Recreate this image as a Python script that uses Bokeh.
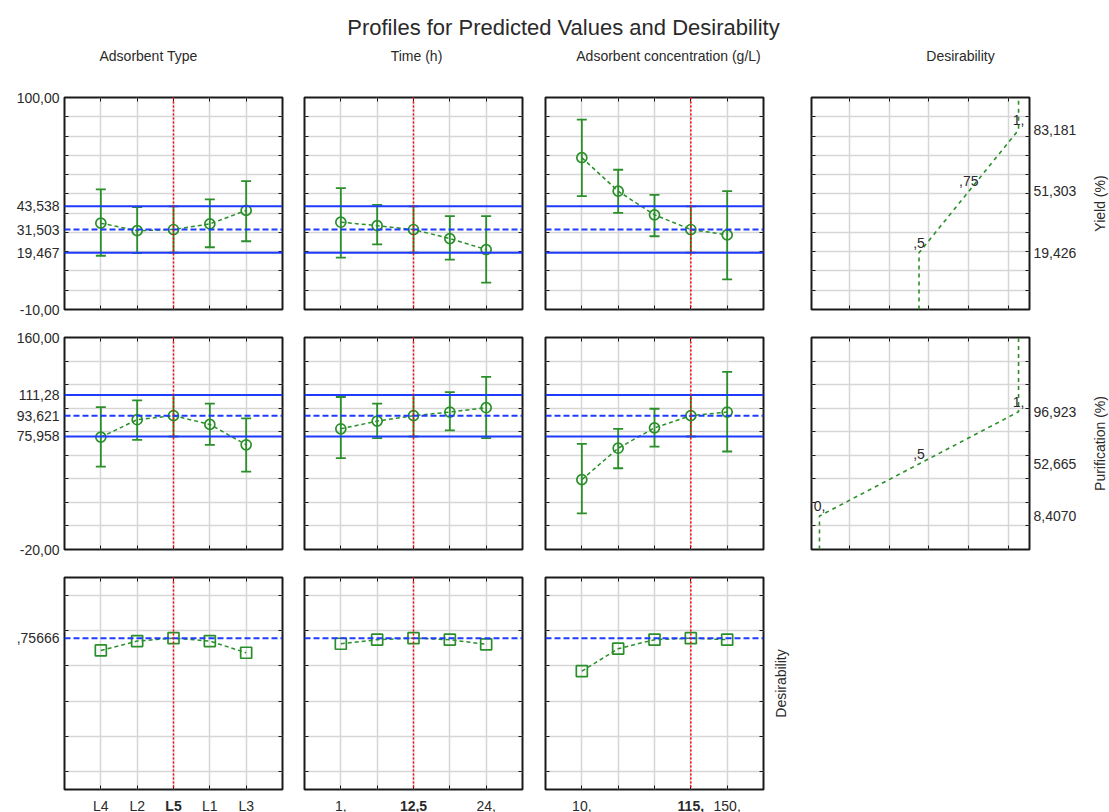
import math
from bokeh.plotting import figure
from bokeh.models import (Range1d, LinearAxis, FixedTicker, Grid, Span, Whisker,
                          ColumnDataSource, Label, TeeHead, Spacer)
from bokeh.layouts import column, row
from bokeh.embed import file_html
from bokeh.resources import INLINE
from bokeh.core.properties import value, field

# ---------------- data ----------------
adsorbent_types = ["L4", "L2", "L5", "L1", "L3"]
times_h = [1, 6.75, 12.5, 18.25, 24]
concs_gL = [10, 45, 80, 115, 150]
current_type = "L5"
current_time = 12.5
current_conc = 115

yield_type = [34.8, 30.9, 31.503, 34.4, 41.4]
yield_type_lo = [17.9, 19.3, 19.467, 22.3, 25.4]
yield_type_hi = [52.3, 43.1, 43.538, 47.1, 56.6]
yield_time = [35.3, 33.5, 31.503, 26.8, 21.1]
yield_time_lo = [16.9, 23.8, 19.467, 15.9, 3.9]
yield_time_hi = [53.0, 44.3, 43.538, 38.4, 38.4]
yield_conc = [68.8, 51.4, 39.1, 31.503, 28.7]
yield_conc_lo = [48.8, 40.1, 28.0, 19.467, 5.6]
yield_conc_hi = [88.5, 62.5, 49.5, 43.538, 51.4]

purif_type = [75.4, 90.2, 93.621, 86.2, 68.9]
purif_type_lo = [50.4, 73.1, 75.958, 68.9, 46.1]
purif_type_hi = [100.9, 106.6, 111.28, 103.8, 91.3]
purif_time = [82.5, 89.0, 93.621, 96.7, 100.4]
purif_time_lo = [57.5, 74.5, 75.958, 81.1, 74.5]
purif_time_hi = [109.5, 103.8, 111.28, 113.7, 126.5]
purif_conc = [39.3, 66.0, 83.3, 93.621, 96.7]
purif_conc_lo = [10.7, 49.0, 67.4, 75.958, 63.2]
purif_conc_hi = [69.7, 82.5, 99.5, 111.28, 130.8]

desir_type = [0.687, 0.740, 0.75666, 0.740, 0.674]
desir_time = [0.725, 0.748, 0.75666, 0.748, 0.722]
desir_conc = [0.570, 0.697, 0.748, 0.75666, 0.748]

yield_current = [19.467, 31.503, 43.538]
purif_current = [75.958, 93.621, 111.28]
desir_current = 0.75666

yield_d_levels = [0.5, 0.75, 1.0]
yield_d_values = [19.426, 51.303, 83.181]
yield_d_labels = [",5", ",75", "1,"]
purif_d_levels = [0.0, 0.5, 1.0]
purif_d_values = [8.407, 52.665, 96.923]
purif_d_labels = ["0,", ",5", "1,"]

yield_ticks = [100, 43.538, 31.503, 19.467, -10]
yield_tick_labels = ["100,00", "43,538", "31,503", "19,467", "-10,00"]
purif_ticks = [160, 111.28, 93.621, 75.958, -20]
purif_tick_labels = ["160,00", "111,28", "93,621", "75,958", "-20,00"]
desir_ticks = [0.75666]
desir_tick_labels = [",75666"]
yield_d_tick_labels = ["19,426", "51,303", "83,181"]
purif_d_tick_labels = ["8,4070", "52,665", "96,923"]
time_tick_vals = [1, 12.5, 24]
time_tick_labels = ["1,", "12,5", "24,"]
conc_tick_vals = [10, 115, 150]
conc_tick_labels = ["10,", "115,", "150,"]

title_text = "Profiles for Predicted Values and Desirability"
col_headers = ["Adsorbent Type", "Time (h)", "Adsorbent concentration (g/L)", "Desirability"]
row_labels = ["Yield (%)", "Purification (%)", "Desirability"]

# ---------------- style ----------------
FW, FH = 218, 212
GREEN = "#2a8f2a"
BLUE = "#1f3bff"
RED = "#ff0000"
GRIDC = "#d6d6d6"
FRAME = "#1a1a1a"
TXT = "#2a2a2a"
FONT = "Liberation Sans"
TS = "14px"

yield_range = (-10, 100)
purif_range = (-20, 160)
desir_range = (-0.1, 1.1)
yield_grid = list(range(0, 100, 10))
purif_grid = list(range(0, 160, 20))
desir_grid = [0.0, 0.2, 0.4, 0.6, 0.8, 1.0]
d_range = (-0.04, 1.055)
d_grid = [0.15, 0.35, 0.55, 0.75, 0.95]

# (left, right) borders per column and (top, bottom) per row
col_lr = [(64, 10), (12, 10), (13, 30), (18, 60)]
row_tb = [(9, 14), (14, 14), (14, 3)]
STRIP_W = 20
LABEL_H = 20


def make_fig(xr, yr, bl, br, bt, bb):
    p = figure(frame_width=FW, frame_height=FH, x_range=xr, y_range=yr,
               x_axis_type=None, y_axis_type=None, toolbar_location=None,
               output_backend="svg", min_border_left=bl, min_border_right=br,
               min_border_top=bt, min_border_bottom=bb)
    p.outline_line_color = FRAME
    p.outline_line_width = 2
    p.background_fill_color = "white"
    p.border_fill_color = "white"
    return p


def blank_fig(fw, fh, xr, yr, bl=0, br=0, bt=0, bb=0):
    s = figure(frame_width=fw, frame_height=fh, x_range=xr, y_range=yr,
               x_axis_type=None, y_axis_type=None, toolbar_location=None,
               output_backend="svg", min_border_left=bl, min_border_right=br,
               min_border_top=bt, min_border_bottom=bb)
    s.outline_line_color = None
    s.background_fill_color = "white"
    s.border_fill_color = "white"
    return s


def key(v):
    return int(v) if float(v).is_integer() else v


def add_axis(p, side, minor, major=(), labels=(), standoff=5):
    ax = LinearAxis(ticker=FixedTicker(ticks=[key(v) for v in major], minor_ticks=list(minor)))
    ax.axis_line_color = None
    ax.major_tick_in = 0
    ax.major_tick_out = 0
    ax.minor_tick_in = 4
    ax.minor_tick_out = 0
    ax.minor_tick_line_color = FRAME
    ax.minor_tick_line_width = 1
    ax.major_label_overrides = {key(v): t for v, t in zip(major, labels)}
    ax.major_label_standoff = standoff
    ax.major_label_text_font = FONT
    ax.major_label_text_font_size = TS
    ax.major_label_text_color = TXT
    p.add_layout(ax, side)
    return ax


def add_grids(p, xgrid, ygrid):
    p.add_layout(Grid(dimension=0, ticker=FixedTicker(ticks=list(xgrid)),
                      grid_line_color=GRIDC, grid_line_width=1.5))
    p.add_layout(Grid(dimension=1, ticker=FixedTicker(ticks=list(ygrid)),
                      grid_line_color=GRIDC, grid_line_width=1.5))


def rot_strip(text, bt, bb):
    s = blank_fig(STRIP_W, FH, Range1d(0, 1), Range1d(0, 1), bt=bt, bb=bb)
    s.text([0.5], [0.5], text=[text], angle=math.pi / 2, text_align="center",
           text_baseline="middle", text_font=value(FONT), text_font_size=value(TS),
           text_color=TXT)
    return s


def padded(vals):
    step = vals[1] - vals[0]
    return Range1d(vals[0] - step, vals[-1] + step)


type_pos = [adsorbent_types.index(t) + 1 for t in adsorbent_types]
cur_type_pos = adsorbent_types.index(current_type) + 1
factors = [
    (type_pos, cur_type_pos),
    (times_h, current_time),
    (concs_gL, current_conc),
]
bottom_labels = [
    (type_pos, adsorbent_types),
    (time_tick_vals, time_tick_labels),
    (conc_tick_vals, conc_tick_labels),
]
x_ranges = [padded(f[0]) for f in factors]

responses = [
    dict(rng=yield_range, grid=yield_grid, ticks=yield_ticks, tlabels=yield_tick_labels,
         cur=yield_current, marker="circle",
         vals=[yield_type, yield_time, yield_conc],
         lo=[yield_type_lo, yield_time_lo, yield_conc_lo],
         hi=[yield_type_hi, yield_time_hi, yield_conc_hi]),
    dict(rng=purif_range, grid=purif_grid, ticks=purif_ticks, tlabels=purif_tick_labels,
         cur=purif_current, marker="circle",
         vals=[purif_type, purif_time, purif_conc],
         lo=[purif_type_lo, purif_time_lo, purif_conc_lo],
         hi=[purif_type_hi, purif_time_hi, purif_conc_hi]),
    dict(rng=desir_range, grid=desir_grid, ticks=desir_ticks, tlabels=desir_tick_labels,
         cur=[desir_current], marker="square",
         vals=[desir_type, desir_time, desir_conc], lo=None, hi=None),
]

rows = []
for r, resp in enumerate(responses):
    figs = []
    bt, bb = row_tb[r]
    for c in range(3):
        xs, cur_x = factors[c]
        bl, br = col_lr[c]
        if r == 2 and c == 2:
            br = 7
        p = make_fig(x_ranges[c], Range1d(*resp["rng"]), bl, br, bt, bb)
        add_grids(p, xs, resp["grid"])
        if r < 2:
            lo_c, mid_c, hi_c = resp["cur"]
            p.add_layout(Span(location=lo_c, dimension="width", line_color=BLUE, line_width=2))
            p.add_layout(Span(location=hi_c, dimension="width", line_color=BLUE, line_width=2))
            p.add_layout(Span(location=mid_c, dimension="width", line_color=BLUE, line_width=2,
                              line_dash="6 3"))
        else:
            p.add_layout(Span(location=resp["cur"][0], dimension="width", line_color=BLUE,
                              line_width=2, line_dash="6 3"))
        p.add_layout(Span(location=cur_x, dimension="height", line_color=RED, line_width=1.5,
                          line_dash="2 2"))
        src = ColumnDataSource(dict(x=xs, y=resp["vals"][c]))
        p.line("x", "y", source=src, line_color=GREEN, line_width=1.5, line_dash="4 3")
        if resp["lo"] is not None:
            wsrc = ColumnDataSource(dict(x=xs, lo=resp["lo"][c], hi=resp["hi"][c]))
            p.add_layout(Whisker(source=wsrc, base="x", lower="lo", upper="hi",
                                 line_color=GREEN, line_width=1.8,
                                 upper_head=TeeHead(size=10, line_color=GREEN, line_width=1.8),
                                 lower_head=TeeHead(size=10, line_color=GREEN, line_width=1.8)))
        p.scatter("x", "y", source=src, marker=resp["marker"], size=10 if r < 2 else 11,
                  line_color=GREEN, fill_color=None, line_width=1.7)
        if c == 0:
            add_axis(p, "left", resp["grid"], resp["ticks"], resp["tlabels"], standoff=5)
        else:
            add_axis(p, "left", resp["grid"], standoff=0)
        add_axis(p, "right", resp["grid"], standoff=0)
        add_axis(p, "above", xs, standoff=0)
        add_axis(p, "below", xs, standoff=0)
        figs.append(p)

    if r < 2:
        if r == 0:
            lv, vv, lab, tl = yield_d_levels, yield_d_values, yield_d_labels, yield_d_tick_labels
        else:
            lv, vv, lab, tl = purif_d_levels, purif_d_values, purif_d_labels, purif_d_tick_labels
        bl, br = col_lr[3]
        p = make_fig(Range1d(*d_range), Range1d(*resp["rng"]), bl, br, bt, bb)
        add_grids(p, d_grid, resp["grid"])
        curve_x = [lv[0]] + lv + [lv[-1]]
        curve_y = [resp["rng"][0]] + vv + [resp["rng"][1]]
        p.line(curve_x, curve_y, line_color=GREEN, line_width=1.6, line_dash="4 4")
        p.text(lv, vv, text=lab, text_align="center", text_baseline="middle", y_offset=-10,
               text_font=value(FONT), text_font_size=value(TS), text_color=TXT)
        add_axis(p, "left", resp["grid"], standoff=0)
        add_axis(p, "right", resp["grid"], vv, tl, standoff=4)
        add_axis(p, "above", d_grid, standoff=0)
        add_axis(p, "below", d_grid, standoff=0)
        figs.append(p)
        figs.append(rot_strip(row_labels[r], bt, bb))
    else:
        figs.append(rot_strip(row_labels[2], bt, bb))
        used = sum(col_lr[c][0] + FW + col_lr[c][1] for c in range(2)) + 13 + FW + 7 + STRIP_W
        figs.append(Spacer(width=1109 - used, height=bt + FH + bb))
    rows.append(row(*figs, spacing=0))

# bottom tick label strip (shares x scales with the last row of panels)
strip_figs = []
for c in range(3):
    bv, bl_txt = bottom_labels[c]
    cur_x = factors[c][1]
    bl, br = col_lr[c]
    s = blank_fig(FW, LABEL_H, x_ranges[c], Range1d(0, LABEL_H), bl=bl, br=br)
    ssrc = ColumnDataSource(dict(x=bv, y=[7] * len(bv), t=bl_txt,
                                 st=["bold" if v == cur_x else "normal" for v in bv]))
    s.text("x", "y", text="t", source=ssrc, text_align="center", text_baseline="middle",
           text_font=value(FONT), text_font_size=value(TS), text_color=TXT,
           text_font_style=field("st"))
    strip_figs.append(s)
used = sum(col_lr[c][0] + FW + col_lr[c][1] for c in range(3))
strip_figs.append(Spacer(width=1109 - used, height=LABEL_H))
rows.append(row(*strip_figs, spacing=0))

# header
hdr = blank_fig(1109, 88, Range1d(0, 1109), Range1d(0, 88))
hdr.add_layout(Label(x=563, y=61, text=title_text, text_align="center", text_baseline="middle",
                     text_font=FONT, text_font_size="22px", text_color=TXT))
for hx, h in zip([148, 416, 668, 960], col_headers):
    hdr.add_layout(Label(x=hx, y=33, text=h, text_align="center", text_baseline="middle",
                         text_font=FONT, text_font_size="14px", text_color=TXT))

layout = column(hdr, *rows, spacing=0)
open("out.html", "w").write(file_html(layout, INLINE))
